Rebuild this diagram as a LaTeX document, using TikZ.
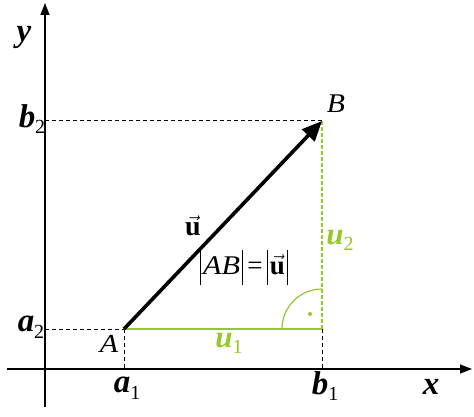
\documentclass[tikz,border=0pt]{standalone}
\usepackage{fontspec}
\setmainfont{Liberation Serif}
\usetikzlibrary{arrows.meta}
\definecolor{lg}{RGB}{150,200,40}
\tikzset{
  axis/.style={line width=1.4pt,-{Triangle[length=12pt,width=9pt]}},
  guide/.style={dashed,line width=1pt,dash pattern=on 4pt off 3pt},
  biglab/.style={font=\fontsize{33}{33}\selectfont\bfseries\itshape,inner sep=0pt},
  glab/.style={font=\fontsize{31}{31}\selectfont\bfseries\itshape,text=lg,inner sep=0pt}
}
\newcommand{\lsub}[2]{#1\raisebox{-0.2em}{\fontsize{20}{20}\selectfont\upshape\mdseries #2}}
\newcommand{\vbar}{\rule[-10pt]{1.3pt}{35pt}}
\begin{document}
\begin{tikzpicture}[x=1pt,y=-1pt]
\useasboundingbox (0,0) rectangle (474,417);
\fill[white] (0,0) rectangle (474,417);
\coordinate (xe) at (472,369);
\coordinate (xs) at (7,369);
\coordinate (ys) at (45,407);
\coordinate (ye) at (45,3);
\coordinate (A) at (124,329);
\coordinate (B) at (322,121);
\coordinate (C) at (322,329);
\coordinate (Ca) at (282,329);
\coordinate (ya2) at (45,329);
\coordinate (yb2) at (45,121);
\coordinate (xa1) at (124,369);
\coordinate (xb1) at (322,369);
% axes
\draw[axis] (xs) -- (xe);
\draw[axis] (ys) -- (ye);
% guides
\draw[guide] (yb2) -- (B);
\draw[guide] (ya2) -- (A);
\draw[guide] (A) -- (xa1);
\draw[guide] (C) -- (xb1);
% green
\draw[lg,line width=1.2pt] (A) -- (C);
\draw[lg,line width=1.5pt,dash pattern=on 4pt off 2pt] (B) -- (C);
\draw[lg,line width=1.2pt] (Ca) arc[start angle=180,end angle=270,radius=40];
\fill[lg] (310,314) circle (2);
% vector
\draw[line width=3.6pt,-{Triangle[length=20pt,width=17pt]}] (A) -- (B);
% labels
\node[biglab] (ly) at (24,37) {y};
\node[biglab] (lx) at (431,387) {x};
\node[biglab] (lb2) at (32,119) {\lsub{b}{2}};
\node[biglab] (la2) at (31,327) {\lsub{a}{2}};
\node[biglab] (la1) at (127,388) {\lsub{a}{1}};
\node[biglab] (lb1) at (325,386) {\lsub{b}{1}};
\node[font=\fontsize{26}{26}\selectfont\itshape,inner sep=0pt] (lA) at (109,344) {\scalebox{1.15}[1]{A}};
\node[font=\fontsize{27}{27}\selectfont\itshape,inner sep=0pt] (lB) at (336,104) {\scalebox{1.1}[1]{B}};
\node[font=\fontsize{28}{28}\selectfont\bfseries,inner sep=0pt] (lu) at (193,226) {$\vec{\textbf{u}}$};
\node[font=\fontsize{27}{27}\selectfont,inner sep=0pt] (leq) at (244,267) {\vbar\hspace{2pt}\scalebox{1.12}[1]{\textit{AB}}\hspace{2pt}\vbar\hspace{4pt}=\hspace{4pt}\vbar\hspace{2pt}$\vec{\textbf{u}}$\hspace{2pt}\vbar};
\node[glab] (lu1) at (229,343) {\lsub{u}{1}};
\node[glab] (lu2) at (340,240) {\lsub{u}{2}};
\end{tikzpicture}
\end{document}
